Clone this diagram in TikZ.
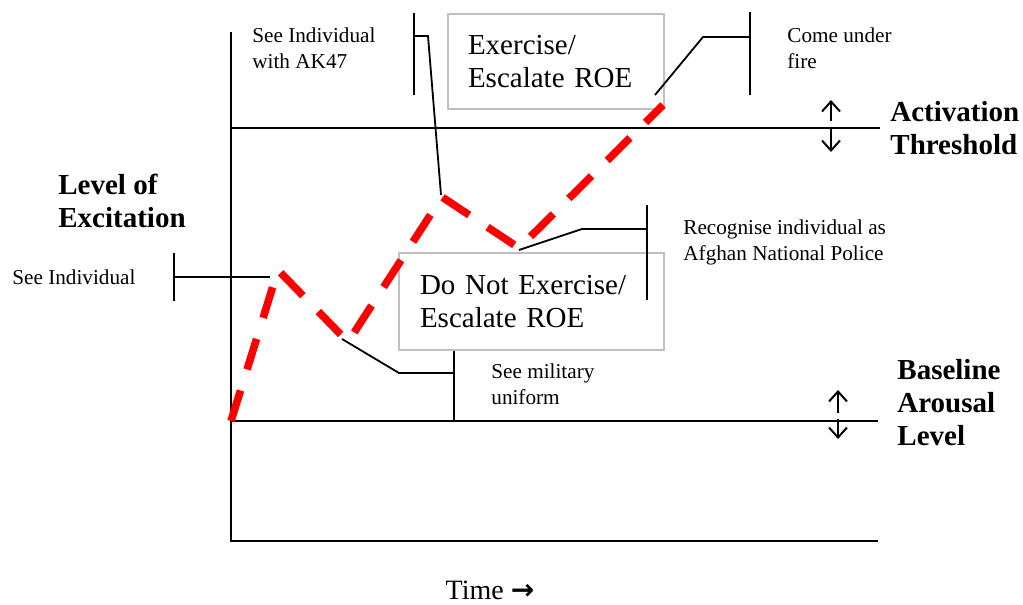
\documentclass[tikz,border=0pt]{standalone}
\usepackage{fontspec}
\setmainfont{Liberation Serif}
\newfontfamily\arrowfont{DejaVu Sans}
\usepackage{tikz}
\usetikzlibrary{arrows.meta}
\definecolor{boxgray}{RGB}{192,192,192}
\tikzset{
    axis/.style={line width=1pt},
    callout/.style={line width=0.9pt},
    note/.style={anchor=west, align=left, inner sep=0pt, font=\fontsize{10.6}{13}\selectfont},
    heading/.style={anchor=west, align=left, inner sep=0pt, font=\fontsize{14.5}{16.5}\selectfont\bfseries},
    roebox/.style={draw=boxgray, line width=1pt, anchor=north west, align=left, inner xsep=10pt, inner ysep=0pt, font=\fontsize{14.5}{16.5}\selectfont},
    excitation/.style={draw=red, line width=3.8pt, dash pattern=on 16pt off 11pt, line join=miter},
    updown/.style={line width=1pt, -{Straight Barb[length=5pt, width=9pt]}}}

\begin{document}
\begin{tikzpicture}[x=0.5pt, y=-0.5pt]
    \useasboundingbox (0,0) rectangle (1023,605);

    \coordinate (T) at (231,32);
    \coordinate (O) at (231,541);
    \coordinate (X) at (878,541);
    \coordinate (A1) at (231,128);
    \coordinate (A2) at (880,128);
    \coordinate (B1) at (231,421);
    \coordinate (B2) at (878,421);

    \draw[axis] (T) -- (O) -- (X);
    \draw[axis] (A1) -- (A2);
    \draw[axis] (B1) -- (B2);

    \draw[updown] (831,121) -- (831,100);
    \draw[updown] (831,129) -- (831,152);
    \draw[updown] (838,413) -- (838,390);
    \draw[updown] (838,419) -- (838,439);

    \node[heading] (Lvl) at (58,200.5) {Level of\\Excitation};
    \node[heading] (Act) at (890,128.5) {Activation\\Threshold};
    \node[heading] (Base) at (897,402.5) {Baseline\\Arousal\\Level};
    \node[font=\fontsize{14}{16}\selectfont, inner sep=0pt] (Time) at (490,590) {Time {\arrowfont\bfseries →}};

    \node[roebox, text width=88pt, minimum height=47.5pt] (E) at (447,13) {Exercise/\\Escalate ROE};
    \node[roebox, text width=111.5pt, minimum height=48.5pt, inner xsep=10.5pt] (N) at (398,252) {Do Not Exercise/\\Escalate ROE};

    \node[note] (S) at (12,277) {See Individual};
    \node[note] (K) at (252,48.5) {See Individual\\with AK47};
    \node[note] (F) at (787,48.5) {Come under\\fire};
    \node[note] (R) at (683,242.5) {Recognise individual as\\Afghan National Police};
    \node[note] (M) at (491,384.5) {See military\\uniform};

    \coordinate (P0) at (231,421);
    \coordinate (P1) at (278,270);
    \coordinate (P2) at (348,342);
    \coordinate (P3) at (442,197);
    \coordinate (P4) at (519,248);
    \coordinate (P5) at (663,105);

    \coordinate (S1) at (174,277);
    \coordinate (S2) at (270,277);
    \draw[callout] (174,253) -- (174,301);
    \draw[callout] (S1) -- (S2);

    \coordinate (K1) at (414,36);
    \coordinate (K2) at (428,36);
    \coordinate (K3) at (441,195);
    \draw[callout] (414,13) -- (414,95);
    \draw[callout] (K1) -- (K2) -- (K3);

    \coordinate (F1) at (750,37);
    \coordinate (F2) at (703,37);
    \coordinate (F3) at (655,95);
    \draw[callout] (750,12) -- (750,95);
    \draw[callout] (F1) -- (F2) -- (F3);

    \coordinate (R1) at (647,229);
    \coordinate (R2) at (582,229);
    \coordinate (R3) at (519,250);
    \draw[callout] (647,205) -- (647,300);
    \draw[callout] (R1) -- (R2) -- (R3);

    \coordinate (M1) at (454,373);
    \coordinate (M2) at (399,373);
    \coordinate (M3) at (342,339);
    \draw[callout] (N.south -| M1) -- (M1 |- B1);
    \draw[callout] (M1) -- (M2) -- (M3);

    \draw[excitation] (P0) -- (P1) -- (P2) -- (P3) -- (P4) -- (P5);

\end{tikzpicture}
\end{document}
